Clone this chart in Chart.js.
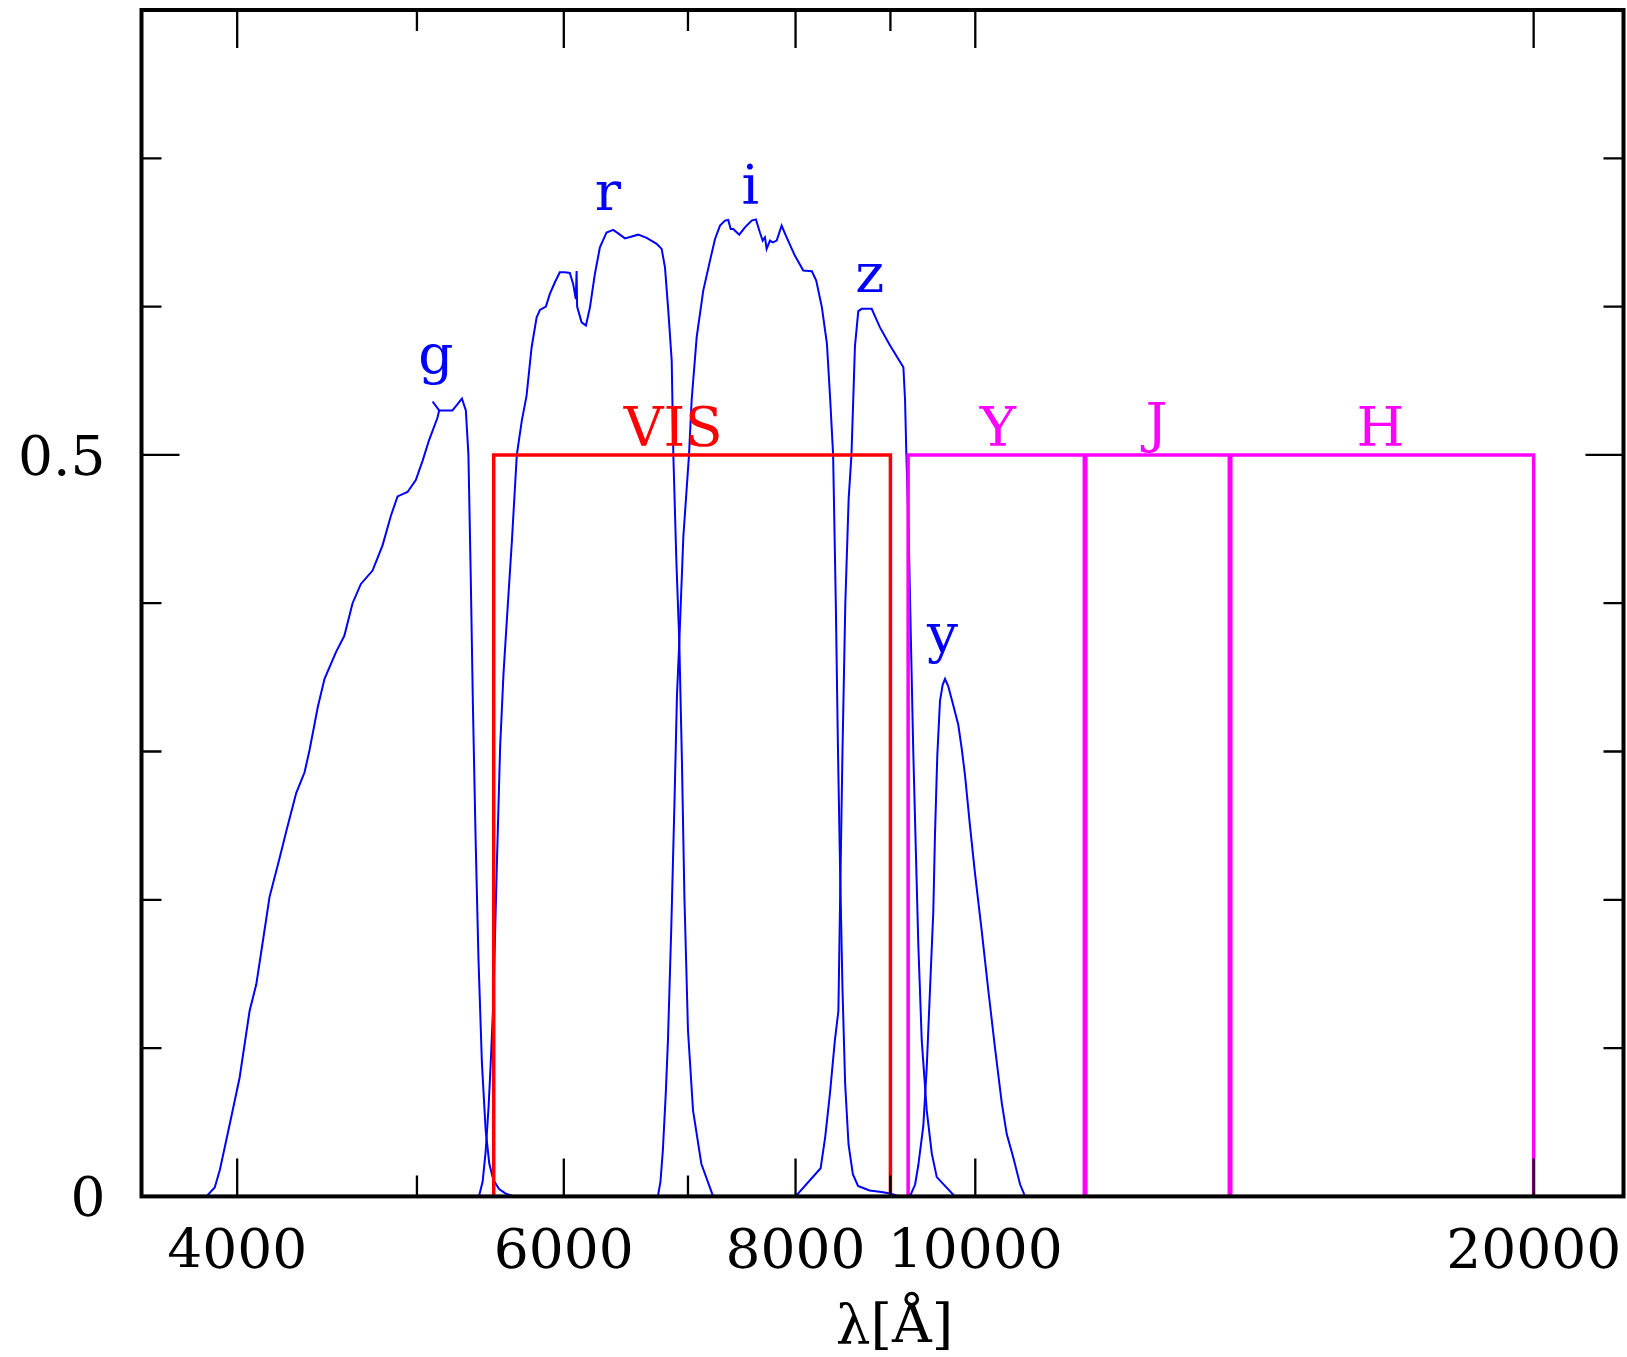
<!DOCTYPE html>
<html><head><meta charset="utf-8">
<script src="https://cdn.jsdelivr.net/npm/chart.js@4.4.1/dist/chart.umd.min.js"></script>
<style>html,body{margin:0;padding:0;background:#fff;overflow:hidden}canvas{display:block}</style>
</head><body>
<canvas id="c" width="1627" height="1357"></canvas>
<script>
// ---- Data: [wavelength (Å), throughput] ----
const gBand = [[3850,0],[3890,0.006],[3915,0.018],[3962,0.048],[4012,0.080],[4062,0.125],[4096,0.143],[4126,0.169],[4164,0.202],[4216,0.228],[4251,0.246],[4304,0.272],[4349,0.286],[4376,0.301],[4421,0.330],[4458,0.349],[4522,0.367],[4569,0.378],[4616,0.400],[4664,0.413],[4732,0.422],[4791,0.439],[4841,0.459],[4881,0.472],[4942,0.475],[4993,0.483],[5035,0.496],[5076,0.510],[5129,0.525],[5140,0.530],[5098,0.536],[5140,0.530],[5225,0.530],[5257,0.534],[5287,0.538],[5313,0.530],[5330,0.500],[5345,0.420],[5360,0.330],[5378,0.240],[5397,0.160],[5420,0.090],[5445,0.045],[5470,0.022],[5498,0.011],[5537,0.005],[5580,0.002],[5640,0]];
const rBand = [[5400,0],[5425,0.010],[5445,0.030],[5465,0.060],[5482,0.095],[5498,0.133],[5521,0.222],[5544,0.303],[5567,0.352],[5590,0.388],[5625,0.441],[5660,0.500],[5695,0.523],[5729,0.540],[5765,0.5726],[5801,0.5928],[5825,0.5978],[5868,0.600],[5897,0.6086],[5934,0.6164],[5970,0.6231],[6008,0.6231],[6045,0.6227],[6070,0.6153],[6090,0.605],[6096,0.624],[6100,0.600],[6134,0.5894],[6167,0.5872],[6198,0.5995],[6236,0.622],[6275,0.640],[6327,0.650],[6379,0.6517],[6419,0.6494],[6473,0.646],[6581,0.6485],[6650,0.6463],[6733,0.6423],[6775,0.6389],[6803,0.6265],[6831,0.5973],[6860,0.5636],[6874,0.500],[6900,0.428],[6925,0.374],[6948,0.292],[6969,0.202],[7000,0.112],[7044,0.058],[7117,0.022],[7222,0]];
const iBand = [[6743,0],[6765,0.010],[6785,0.031],[6810,0.070],[6828,0.105],[6856,0.180],[6885,0.270],[6905,0.338],[6925,0.374],[6960,0.445],[7009,0.500],[7032,0.537],[7076,0.5794],[7134,0.6108],[7194,0.631],[7239,0.6456],[7284,0.6546],[7329,0.658],[7359,0.6584],[7381,0.6523],[7405,0.6523],[7460,0.6485],[7513,0.6534],[7576,0.658],[7616,0.6588],[7654,0.650],[7680,0.6445],[7702,0.6467],[7718,0.6389],[7750,0.6445],[7776,0.6433],[7815,0.6445],[7863,0.6546],[7912,0.6467],[7993,0.6344],[8077,0.6243],[8164,0.6238],[8208,0.6175],[8266,0.5995],[8318,0.5749],[8352,0.537],[8382,0.500],[8410,0.400],[8433,0.300],[8455,0.220],[8480,0.140],[8508,0.076],[8544,0.035],[8590,0.015],[8645,0.007],[8770,0.004],[8900,0.003],[9000,0.002],[9100,0]];
const zBand = [[8000,0],[8253,0.019],[8300,0.040],[8350,0.070],[8400,0.105],[8437,0.125],[8455,0.200],[8480,0.300],[8510,0.400],[8545,0.470],[8575,0.500],[8594,0.537],[8612,0.573],[8648,0.597],[8685,0.5985],[8793,0.5985],[8884,0.586],[8996,0.5737],[9146,0.5591],[9165,0.537],[9180,0.500],[9205,0.450],[9230,0.380],[9259,0.300],[9290,0.230],[9317,0.170],[9357,0.105],[9415,0.058],[9474,0.029],[9533,0.013],[9750,0]];
const yBand = [[9221,0],[9280,0.008],[9317,0.021],[9375,0.0475],[9415,0.087],[9453,0.139],[9492,0.192],[9512,0.244],[9539,0.297],[9571,0.334],[9603,0.345],[9631,0.349],[9670,0.344],[9731,0.331],[9791,0.318],[9833,0.302],[9873,0.284],[9934,0.250],[9996,0.218],[10080,0.179],[10163,0.139],[10248,0.100],[10334,0.063],[10398,0.042],[10484,0.026],[10572,0.008],[10638,0]];

const visEdges = [5500, 9000];
const nirEdges = [9200, 11460, 13720, 20000];
const boxLevel = 0.5;

const xMajorTicks = [4000, 6000, 8000, 10000, 20000];
const xTickLabels = ['4000', '6000', '8000', '10000', '20000'];
const xMinorTicks = [5000, 7000, 9000];
const yMajorTicks = [0, 0.5];
const yTickLabels = ['0', '0.5'];
const yMinorTicks = [0.1, 0.2, 0.3, 0.4, 0.6, 0.7];

const bandNames = ['g', 'r', 'i', 'z', 'y'];
const bandNameAt = [[5119, 0.555], [6338, 0.665], [7563, 0.669], [8771, 0.610], [9601, 0.367]];
const boxNames = ['VIS', 'Y', 'J', 'H'];
const boxNameAt = [[6873, 0.506], [10286, 0.506], [12524, 0.509], [16539, 0.506]];
const xTitle = 'λ[Å]';

// ---- Build datasets ----
const BLUE = '#0000ff', RED = '#ff0000', MAG = '#ff00ff';
const pts = a => a.map(p => ({x: p[0], y: p[1]}));
const line = (data, color, width, order) => ({data, borderColor: color, backgroundColor: color, borderWidth: width,
  showLine: true, pointRadius: 0, pointHoverRadius: 0, tension: 0, fill: false, order});

const datasets = [];
[gBand, rBand, iBand, zBand, yBand].forEach(b => datasets.push(line(pts(b), BLUE, 2, 3)));
datasets.push(line(pts([[visEdges[0],0],[visEdges[0],boxLevel],[visEdges[1],boxLevel],[visEdges[1],0]]), RED, 3.5, 1));
const nFirst = nirEdges[0], nLast = nirEdges[nirEdges.length-1];
datasets.push(line(pts([[nFirst,0],[nFirst,boxLevel],[nLast,boxLevel],[nLast,0]]), MAG, 3.5, 1));
nirEdges.slice(1, -1).forEach(e => datasets.push(line(pts([[e,0],[e,boxLevel]]), MAG, 5, 1)));

const FONT = '55px "DejaVu Serif"';
const framePlugin = {
  id: 'frame',
  afterDraw(chart) {
    const c = chart.ctx, a = chart.chartArea, xs = chart.scales.x, ys = chart.scales.y;
    c.save();
    c.strokeStyle = '#000';
    c.lineWidth = 2.3;
    c.beginPath();
    const xt = (v, len) => { const p = xs.getPixelForValue(v);
      c.moveTo(p, a.bottom); c.lineTo(p, a.bottom - len); c.moveTo(p, a.top); c.lineTo(p, a.top + len); };
    const yt = (v, len) => { const p = ys.getPixelForValue(v);
      c.moveTo(a.left, p); c.lineTo(a.left + len, p); c.moveTo(a.right, p); c.lineTo(a.right - len, p); };
    xMajorTicks.forEach(v => xt(v, 38));
    xMinorTicks.forEach(v => xt(v, 21));
    yMajorTicks.forEach(v => yt(v, 38));
    yMinorTicks.forEach(v => yt(v, 20));
    c.stroke();
    c.lineWidth = 4;
    c.strokeRect(a.left, a.top, a.right - a.left, a.bottom - a.top);

    c.fillStyle = '#000';
    c.font = FONT;
    c.textBaseline = 'alphabetic';
    c.textAlign = 'center';
    xMajorTicks.forEach((v, i) => c.fillText(xTickLabels[i], xs.getPixelForValue(v), a.bottom + 72));
    c.textAlign = 'right';
    yMajorTicks.forEach((v, i) => c.fillText(yTickLabels[i], a.left - 36, ys.getPixelForValue(v) + 20));
    c.textAlign = 'center';
    c.fillText(xTitle, (a.left + a.right) / 2 + 12, a.bottom + 147);

    c.fillStyle = BLUE;
    bandNames.forEach((t, i) => c.fillText(t, xs.getPixelForValue(bandNameAt[i][0]), ys.getPixelForValue(bandNameAt[i][1])));
    boxNames.forEach((t, i) => {
      c.fillStyle = i === 0 ? RED : MAG;
      c.fillText(t, xs.getPixelForValue(boxNameAt[i][0]), ys.getPixelForValue(boxNameAt[i][1]));
    });
    c.restore();
  }
};

new Chart(document.getElementById('c').getContext('2d'), {
  type: 'scatter',
  data: {datasets},
  options: {
    responsive: false, animation: false, events: [],
    layout: {padding: {left: 141.5, right: 3.5, top: 10, bottom: 160.6}},
    scales: {
      x: {type: 'logarithmic', min: 3552, max: 22360, display: false, bounds: 'data'},
      y: {type: 'linear', min: 0, max: 0.8, display: false}
    },
    plugins: {legend: {display: false}, tooltip: {enabled: false}}
  },
  plugins: [framePlugin]
});
</script>
</body></html>
